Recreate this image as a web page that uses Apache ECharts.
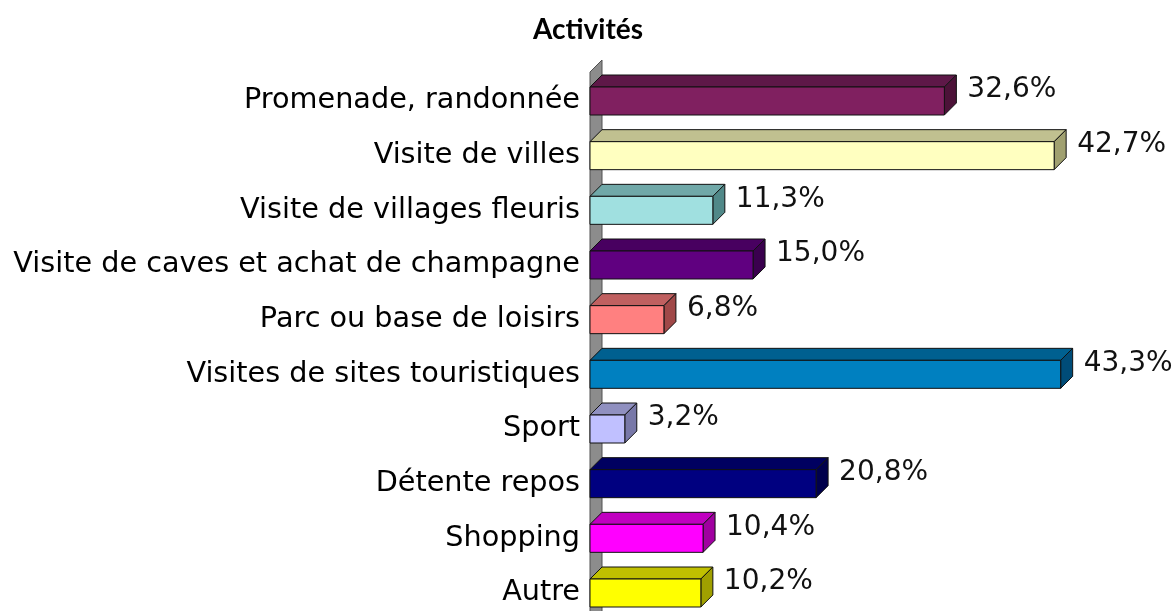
<!DOCTYPE html>
<html>
<head>
<meta charset="utf-8">
<script src="https://cdn.jsdelivr.net/npm/echarts@6/dist/echarts.min.js"></script>
<style>html,body{margin:0;padding:0;background:#fff;}#chart{width:1176px;height:611px;}</style>
</head>
<body>
<div id="chart"></div>
<script>
const categories = [
  'Promenade, randonnée',
  'Visite de villes',
  'Visite de villages fleuris',
  'Visite de caves et achat de champagne',
  'Parc ou base de loisirs',
  'Visites de sites touristiques',
  'Sport',
  'Détente repos',
  'Shopping',
  'Autre'
];
const values = [32.6, 42.7, 11.3, 15.0, 6.8, 43.3, 3.2, 20.8, 10.4, 10.2];
const frontColors = ['#802060', '#FFFFC0', '#A0E0E0', '#600080', '#FF8080', '#0080C0', '#C0C0FF', '#000080', '#FF00FF', '#FFFF00'];
const topColors   = ['#5E1848', '#C0C090', '#70A8A8', '#480060', '#C06060', '#006090', '#9090C0', '#000060', '#C000C0', '#C0C000'];
const sideColors  = ['#4C1238', '#A0A070', '#508888', '#3A004E', '#A04848', '#004C78', '#7878A8', '#00004C', '#A000A0', '#A0A000'];

const D = 12;      // 3D depth offset
const H = 28;      // bar thickness

function fmt(v) { return v.toFixed(1).replace('.', ',') + '%'; }

const chart = echarts.init(document.getElementById('chart'));
chart.setOption({
  animation: false,
  title: {
    text: 'Activités',
    left: 'center',
    top: 11,
    textStyle: { fontFamily: 'Lato', fontWeight: 'bold', fontSize: 28, color: '#000' }
  },
  grid: { left: 590, top: 101, width: 543.5, height: 492, containLabel: false },
  xAxis: { type: 'value', min: 0, max: 50, show: false },
  yAxis: {
    type: 'category',
    data: categories,
    inverse: true,
    boundaryGap: false,
    axisLine: { show: false },
    axisTick: { show: false },
    splitLine: { show: false },
    axisLabel: { margin: 10, fontSize: 28.7, fontFamily: 'DejaVu Sans', color: '#000' }
  },
  series: [
    {
      type: 'custom',
      clip: false,
      z: 1,
      data: [[0]],
      renderItem: function (params, api) {
        const cs = params.coordSys;
        const x0 = cs.x, yT = cs.y - 29, yB = 640;
        return {
          type: 'polygon',
          shape: { points: [[x0, yT], [x0 + D, yT - D], [x0 + D, yB - D], [x0, yB]] },
          style: { fill: '#8C8C8C', stroke: '#505050', lineWidth: 1 }
        };
      }
    },
    {
      type: 'custom',
      clip: false,
      z: 2,
      data: values.map((v, i) => [v, categories[i], i]),
      renderItem: function (params, api) {
        const i = params.dataIndex;
        const start = api.coord([0, api.value(1)]);
        const end = api.coord([api.value(0), api.value(1)]);
        const x0 = start[0], x1 = end[0];
        const y0 = start[1] - H / 2, y1 = start[1] + H / 2;
        const stroke = { stroke: '#111', lineWidth: 1 };
        return {
          type: 'group',
          children: [
            { type: 'polygon', shape: { points: [[x0, y0], [x0 + D, y0 - D], [x1 + D, y0 - D], [x1, y0]] },
              style: Object.assign({ fill: topColors[i] }, stroke) },
            { type: 'polygon', shape: { points: [[x1, y0], [x1 + D, y0 - D], [x1 + D, y1 - D], [x1, y1]] },
              style: Object.assign({ fill: sideColors[i] }, stroke) },
            { type: 'rect', shape: { x: x0, y: y0, width: x1 - x0, height: H },
              style: Object.assign({ fill: frontColors[i] }, stroke) },
            { type: 'text', x: x1 + D + 11, y: start[1] - 11,
              style: { text: fmt(values[i]), fill: '#111', fontSize: 28, fontFamily: 'DejaVu Sans',
                       align: 'left', verticalAlign: 'middle' } }
          ]
        };
      }
    }
  ]
});
</script>
</body>
</html>
